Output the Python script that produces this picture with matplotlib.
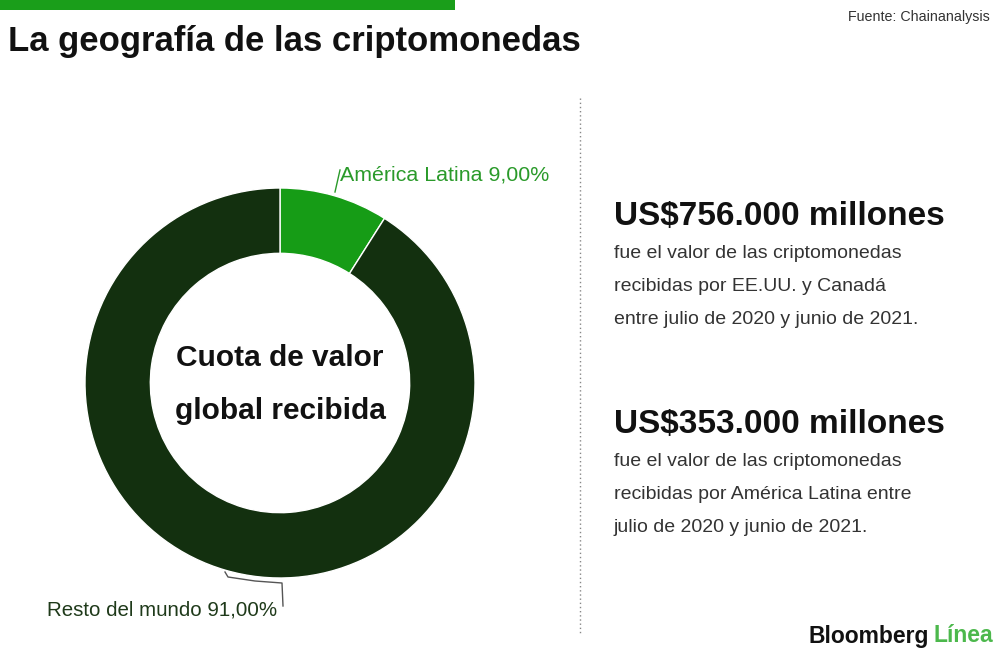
import matplotlib
matplotlib.use("Agg")
import matplotlib.pyplot as plt

# Data
regions = ["América Latina", "Resto del mundo"]
shares = [9.00, 91.00]
colors = ["#169c16", "#13300f"]

title = "La geografía de las criptomonedas"
source = "Fuente: Chainanalysis"
center_label = ["Cuota de valor", "global recibida"]
headlines = ["US$756.000 millones", "US$353.000 millones"]
blurbs = [
    ["fue el valor de las criptomonedas",
     "recibidas por EE.UU. y Canadá",
     "entre julio de 2020 y junio de 2021."],
    ["fue el valor de las criptomonedas",
     "recibidas por América Latina entre",
     "julio de 2020 y junio de 2021."],
]

W, H = 1000, 659
FONT = ["Liberation Sans", "DejaVu Sans"]


def fx(px):
    return px / W


def fy(py):
    return 1 - py / H


fig = plt.figure(figsize=(W / 100, H / 100), dpi=100)
fig.patch.set_facecolor("white")

# top green bar
fig.add_artist(plt.Rectangle((0, fy(10)), fx(455), 10 / H, color="#1a9e1a",
                             transform=fig.transFigure, lw=0))

fig.text(fx(8), fy(42), title, fontsize=25, fontweight="bold", family=FONT,
         color="#111111", va="center", ha="left")
fig.text(fx(990), fy(17), source, fontsize=10.3, family=FONT,
         color="#333333", va="center", ha="right")

# donut
cx, cy, R = 280, 383, 195
ax = fig.add_axes([fx(cx - 200), fy(cy + 200), 400 / W, 400 / H])
wedges, _ = ax.pie(shares, colors=colors, startangle=90, counterclock=False,
                   radius=1, wedgeprops=dict(width=0.335, edgecolor="white", linewidth=1))
lim = 200 / R
ax.set_xlim(-lim, lim)
ax.set_ylim(-lim, lim)
ax.set_aspect("equal")
ax.axis("off")

ax.text(0, 0.13, center_label[0], fontsize=21.5, fontweight="bold", family=FONT,
        ha="center", va="center", color="#111111")
ax.text(0, -0.145, center_label[1], fontsize=21.5, fontweight="bold", family=FONT,
        ha="center", va="center", color="#111111")

# labels with leader lines (figure pixel coords)
def px_line(xs, ys, color):
    fig.add_artist(plt.Line2D([fx(x) for x in xs], [fy(y) for y in ys],
                              color=color, lw=1, transform=fig.transFigure))

px_line([335, 340], [192, 170], "#2a9a2a")
fig.text(fx(340), fy(175), f"{regions[0]} {shares[0]:.2f}%".replace(".", ","),
         fontsize=15.4, family=FONT, color="#2a9a2a", va="center", ha="left")

px_line([225, 228, 255, 282, 283], [572, 577, 581, 583, 606], "#555555")
fig.text(fx(47), fy(610), f"{regions[1]} {shares[1]:.2f}%".replace(".", ","),
         fontsize=14.8, family=FONT, color="#1f3a1a", va="center", ha="left")

# dotted divider
fig.add_artist(plt.Line2D([fx(580), fx(580)], [fy(98), fy(635)], color="#888888",
                          lw=1, ls=(0, (1, 2)), transform=fig.transFigure))

# right-hand text blocks
for i, (head, lines) in enumerate(zip(headlines, blurbs)):
    y0 = 213 + i * 208
    fig.text(fx(614), fy(y0 + 3), head, fontsize=24, fontweight="bold", family=FONT,
             color="#111111", va="center", ha="left")
    for j, line in enumerate(lines):
        fig.text(fx(614), fy(y0 + 40 + j * 33.5), line, fontsize=14,
                 family=FONT, color="#333333", va="center", ha="left")

# logo
fig.text(fx(808), fy(636), "Bloomberg", fontsize=16.5, fontweight="bold",
         family=FONT, color="#111111", va="center", ha="left")
fig.text(fx(993), fy(636), "Línea", fontsize=16.5, fontweight="bold",
         family=FONT, color="#4cb84c", va="center", ha="right")

fig.savefig("out.png", dpi=100, facecolor="white")
